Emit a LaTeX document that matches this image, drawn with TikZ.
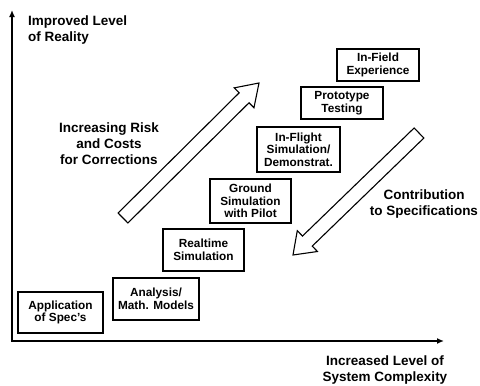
\documentclass[tikz,border=0pt]{standalone}
\usepackage{fontspec}
\setmainfont{Liberation Sans}
\usetikzlibrary{calc,arrows.meta}
\begin{document}
\begin{tikzpicture}[x=1pt,y=-1pt,
  stage/.style={draw, line width=1.1pt, align=center, inner sep=0pt,
    font=\fontsize{11.8}{12.5}\selectfont\bfseries},
  biglabel/.style={align=center, inner sep=0pt,
    font=\fontsize{13.5}{16}\selectfont\bfseries},
  axis/.style={line width=1.4pt, {Latex[length=7pt,width=6pt]}-{Latex[length=7pt,width=6pt]}},
  bigarrow/.style={draw, line width=1.1pt, line join=miter, fill=white}]
\useasboundingbox (0,0) rectangle (480,386);

% axes
\coordinate (Ytop) at (12,10);
\coordinate (O) at (12,341);
\coordinate (Xend) at (444,341);
\draw[axis] (Ytop) -- (O) -- (Xend);

% axis labels
\node[biglabel, align=left, anchor=west] (ylab) at (28,30) {Improved Level\\of Reality};
\node[biglabel] (xlab) at (385,370) {Increased Level of\\System Complexity};

% stages
\node[stage, minimum width=85pt, minimum height=41pt] (app) at (60.5,312.5) {Application\\of Spec's};
\node[stage, minimum width=86pt, minimum height=42pt] (ana) at (156,299) {Analysis/\\Math. Models};
\node[stage, minimum width=81pt, minimum height=42pt] (rt) at (203.5,250) {Realtime\\Simulation};
\node[stage, minimum width=81pt, minimum height=44pt] (gs) at (250.5,201) {Ground\\Simulation\\with Pilot};
\node[stage, minimum width=83pt, minimum height=45pt] (ifl) at (298.5,149.5) {In-Flight\\Simulation/\\Demonstrat.};
\node[stage, minimum width=82pt, minimum height=32pt] (pt) at (342,103) {Prototype\\Testing};
\node[stage, minimum width=82pt, minimum height=32pt] (ife) at (378,65) {In-Field\\Experience};

% big hollow arrows
\coordinate (uT) at (123,218);
\coordinate (uP) at (259,83);
\coordinate (uH) at ($(uP)!21pt!(uT)$);
\draw[bigarrow] ($(uT)!7pt!90:(uP)$) -- ($(uH)!7pt!90:(uP)$) -- ($(uH)!14pt!90:(uP)$)
  -- (uP) -- ($(uH)!14pt!-90:(uP)$) -- ($(uH)!7pt!-90:(uP)$) -- ($(uT)!7pt!-90:(uP)$) -- cycle;

\coordinate (dT) at (419,133);
\coordinate (dP) at (293,255);
\coordinate (dH) at ($(dP)!20pt!(dT)$);
\draw[bigarrow] ($(dT)!7pt!90:(dP)$) -- ($(dH)!7pt!90:(dP)$) -- ($(dH)!14.5pt!90:(dP)$)
  -- (dP) -- ($(dH)!14.5pt!-90:(dP)$) -- ($(dH)!7pt!-90:(dP)$) -- ($(dT)!7pt!-90:(dP)$) -- cycle;

% arrow labels
\node[biglabel] (risk) at (109,144) {Increasing Risk\\and Costs\\for Corrections};
\node[biglabel] (contrib) at (424,204) {Contribution\\to Specifications};
\end{tikzpicture}
\end{document}
